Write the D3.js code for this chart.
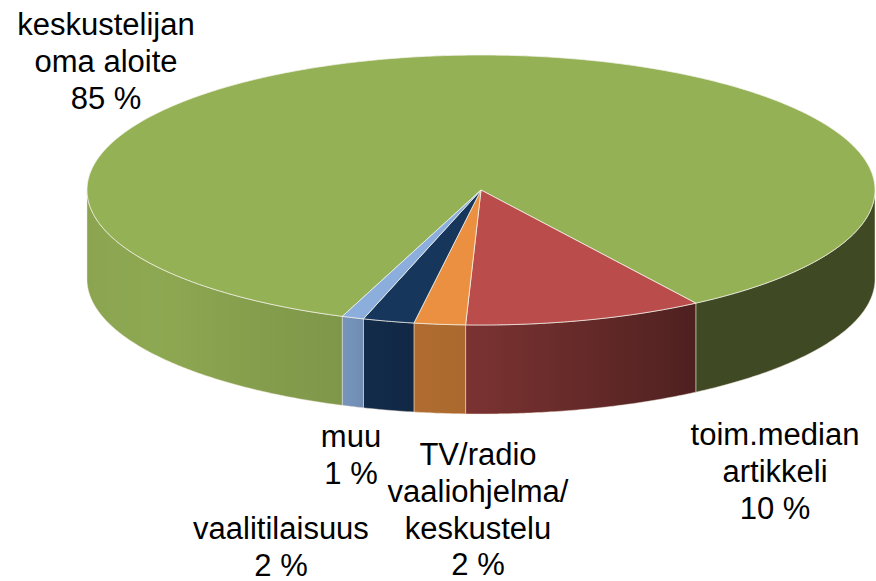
<!DOCTYPE html>
<html>
<head>
<meta charset="utf-8">
<script src="https://cdn.jsdelivr.net/npm/d3@7"></script>
<style>
  body { margin: 0; background: #fff; }
  svg { display: block; }
  text { font-family: "Liberation Sans", Arial, sans-serif; font-size: 31px; fill: #000; }
</style>
</head>
<body>
<svg class="chart"></svg>
<script>
const categories = ['keskustelijan oma aloite', 'toim.median artikkeli', 'TV/radio vaaliohjelma/keskustelu', 'vaalitilaisuus', 'muu'];
const values = [85.1, 9.8, 2.1, 2.1, 0.9];
const labelLines = [
  ['keskustelijan', 'oma aloite'],
  ['toim.median', 'artikkeli'],
  ['TV/radio', 'vaaliohjelma/', 'keskustelu'],
  ['vaalitilaisuus'],
  ['muu'],
];
const colors = ['#95b156', '#ba4d4b', '#eb9040', '#16365c', '#8baedc'];

// where excel put the labels (center x, first baseline)
const labelPos = [[106, 35], [775, 445], [478, 465], [281, 539], [351, 447]];

const width = 876;
const height = 581;
const cx = 481;
const cy = 190;
const rx = 394;
const ry = 135;
const depth = 89;
const lineH = 37;

const svg = d3.select('.chart')
  .attr('width', width)
  .attr('height', height);
const defs = svg.append('defs');

const start = 200.6 * Math.PI / 180;
const pie = d3.pie().sort(null).startAngle(start).endAngle(start + 2 * Math.PI);
const arcs = pie(values);

const px = a => cx + rx * Math.sin(a);
const py = a => cy - ry * Math.cos(a);

// wall shading by angle (degrees clockwise from top)
const shade = d3.scaleLinear()
  .domain([90, 147, 182.2, 182.35, 190, 197.4, 200, 235, 270])
  .range([0.42, 0.42, 0.66, 0.73, 0.75, 0.8, 0.85, 0.95, 0.92])
  .clamp(true);

function darker(c, f) {
  const r = d3.rgb(c);
  return d3.rgb(r.r * f, r.g * f, r.b * f).formatHex();
}

function samples(a0, a1) {
  const n = Math.max(2, Math.ceil(Math.abs(a1 - a0) / (0.5 * Math.PI / 180)));
  return d3.range(n + 1).map(i => a0 + (a1 - a0) * i / n);
}

// walls (front half only)
const walls = [];
arcs.forEach((d, i) => {
  [[Math.PI / 2, 1.5 * Math.PI], [2.5 * Math.PI, 3.5 * Math.PI]].forEach(([lo, hi]) => {
    const a0 = Math.max(d.startAngle, lo);
    const a1 = Math.min(d.endAngle, hi);
    if (a1 > a0) walls.push({ i, a0, a1 });
  });
});

walls.forEach((w, k) => {
  const x1 = px(w.a0);
  const x2 = px(w.a1);
  const grad = defs.append('linearGradient')
    .attr('id', `wall${k}`)
    .attr('gradientUnits', 'userSpaceOnUse')
    .attr('x1', x1).attr('y1', 0)
    .attr('x2', x2).attr('y2', 0);
  const pad = 0.2 * Math.PI / 180;
  samples(w.a0 + pad, w.a1 - pad).filter((a, j, arr) => j % 4 === 0 || j === arr.length - 1).forEach((a) => {
    const deg = (a * 180 / Math.PI) % 360;
    grad.append('stop')
      .attr('offset', x2 === x1 ? 0 : (px(a) - x1) / (x2 - x1))
      .attr('stop-color', darker(colors[w.i], shade(deg)));
  });

  const top = samples(w.a0, w.a1).map(a => [px(a), py(a)]);
  const bottom = samples(w.a0, w.a1).reverse().map(a => [px(a), py(a) + depth]);
  svg.append('path')
    .attr('d', d3.line()(top.concat(bottom)) + 'Z')
    .attr('fill', `url(#wall${k})`)
    .attr('stroke', '#f2e6dc')
    .attr('stroke-opacity', 0.6)
    .attr('stroke-width', 0.8);
});

// top surface
svg.selectAll('path.top')
  .data(arcs)
  .enter()
  .append('path')
  .attr('class', 'top')
  .attr('d', (d) => {
    const pts = [[cx, cy]].concat(samples(d.startAngle, d.endAngle).map(a => [px(a), py(a)]));
    return d3.line()(pts) + 'Z';
  })
  .attr('fill', (d, i) => colors[i])
  .attr('stroke', '#f4f4ec')
  .attr('stroke-opacity', 0.75)
  .attr('stroke-width', 1)
  .attr('stroke-linejoin', 'round');

// labels
const total = d3.sum(values);
const label = svg.selectAll('text.lbl')
  .data(arcs)
  .enter()
  .append('text')
  .attr('class', 'lbl')
  .attr('text-anchor', 'middle');

label.each(function (d, i) {
  const lines = labelLines[i].concat([`${Math.round(d.value / total * 100)} %`]);
  const [x, y] = labelPos[i];
  d3.select(this).selectAll('tspan')
    .data(lines)
    .enter()
    .append('tspan')
    .attr('x', x)
    .attr('y', (t, j) => y + j * (i === 2 ? 36.8 : lineH))
    .text(t => t);
});
</script>
</body>
</html>
